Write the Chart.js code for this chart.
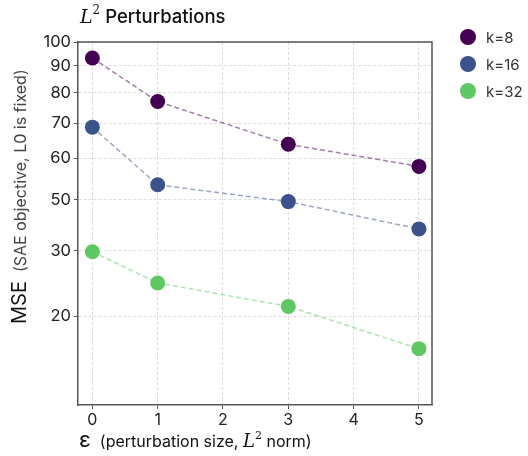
<!DOCTYPE html>
<html>
<head>
<meta charset="utf-8">
<script src="https://cdn.jsdelivr.net/npm/chart.js@4"></script>
<style>
  html, body { margin: 0; padding: 0; background: #fff; }
  #wrap { width: 528px; height: 456px; }
</style>
</head>
<body>
<div id="wrap"><canvas id="chart"></canvas></div>
<script>
const xValues = [0, 1, 3, 5];
const seriesNames = ['k=8', 'k=16', 'k=32'];
const k8 = [93.2, 77.0, 63.8, 57.9];
const k16 = [68.8, 53.4, 49.6, 44.0];
const k32 = [39.8, 34.7, 31.3, 26.0];
const xTicks = [0, 1, 2, 3, 4, 5];
const yTickValues = [30, 40, 50, 60, 70, 80, 90, 100];
const yTickLabels = ['20', '30', '50', '60', '70', '80', '90', '100'];

const colors = ['#440154', '#3b528b', '#5ec962'];
const lineColors = ['rgba(68,1,84,0.5)', 'rgba(59,82,139,0.5)', 'rgba(94,201,98,0.5)'];
const sansFont = 'Inter, "Noto Sans", sans-serif';
const mathFont = '"DejaVu Serif", "Liberation Serif", serif';

function drawRich(ctx, parts, x, y) {
    // parts: [text, font, dy]
    let cx = x;
    parts.forEach(p => {
        ctx.font = p[1];
        ctx.fillText(p[0], cx, y + (p[2] || 0));
        cx += ctx.measureText(p[0]).width;
    });
}

function richWidth(ctx, parts) {
    let w = 0;
    parts.forEach(p => { ctx.font = p[1]; w += ctx.measureText(p[0]).width; });
    return w;
}

const decorPlugin = {
    id: 'decor',
    beforeDatasetsDraw(chart) {
        const ctx = chart.ctx;
        const a = chart.chartArea;
        ctx.save();
        ctx.strokeStyle = '#555';
        ctx.lineWidth = 1.5;
        ctx.beginPath();
        ctx.moveTo(a.left, a.top);
        ctx.lineTo(a.right, a.top);
        ctx.lineTo(a.right, a.bottom);
        ctx.stroke();
        ctx.restore();
    },
    afterDraw(chart) {
        const ctx = chart.ctx;
        const a = chart.chartArea;
        ctx.save();
        ctx.fillStyle = '#111';
        ctx.textBaseline = 'alphabetic';

        // title
        drawRich(ctx, [
            ['L', 'italic 19px ' + mathFont, 0],
            ['2', '12px ' + mathFont, -9],
            [' Perturbations', '500 18.5px ' + sansFont, 0]
        ], a.left + 2, 23);

        // x axis title
        drawRich(ctx, [
            ['ε', '22px ' + sansFont, 0],
            ['  (perturbation size, ', '16px ' + sansFont, 0],
            ['L', 'italic 18px ' + mathFont, 0],
            ['2', '11px ' + mathFont, -8],
            [' norm)', '16px ' + sansFont, 0]
        ], a.left + 1, 447);

        // y axis title
        const yParts = [
            ['MSE', '20px ' + sansFont, 0],
            ['  (SAE objective, L0 is fixed)', '16px ' + sansFont, 0]
        ];
        ctx.translate(26, 324);
        ctx.rotate(-Math.PI / 2);
        ctx.fillStyle = '#111';
        drawRich(ctx, yParts.slice(0, 1), 0, 0);
        ctx.fillStyle = '#444';
        drawRich(ctx, yParts.slice(1), richWidth(ctx, yParts.slice(0, 1)), 0);
        ctx.restore();

        // legend
        ctx.save();
        ctx.textBaseline = 'middle';
        ctx.font = '15px ' + sansFont;
        chart.data.datasets.forEach((ds, i) => {
            const ly = 37 + i * 27;
            ctx.fillStyle = ds.backgroundColor;
            ctx.beginPath();
            ctx.arc(468, ly, 8, 0, Math.PI * 2);
            ctx.fill();
            ctx.fillStyle = '#333';
            ctx.fillText(ds.label, 486, ly + 1);
        });
        ctx.restore();
    }
};

const seriesData = [k8, k16, k32];

new Chart(document.getElementById('chart').getContext('2d'), {
    type: 'line',
    data: {
        datasets: seriesData.map((vals, i) => ({
            label: seriesNames[i],
            data: vals.map((v, j) => ({ x: xValues[j], y: v })),
            borderColor: lineColors[i],
            backgroundColor: colors[i],
            borderDash: [5, 3],
            borderWidth: 1.5,
            pointRadius: 7.5,
            pointHoverRadius: 7.5,
            pointBorderWidth: 0,
            pointBackgroundColor: colors[i],
            clip: false
        }))
    },
    options: {
        responsive: true,
        maintainAspectRatio: false,
        animation: false,
        layout: { padding: { left: 0, top: 42, right: 96, bottom: 0 } },
        plugins: {
            legend: { display: false },
            tooltip: { enabled: false }
        },
        scales: {
            x: {
                type: 'linear',
                min: -0.22,
                max: 5.2,
                afterBuildTicks: scale => { scale.ticks = xTicks.map(v => ({ value: v })); },
                afterFit: scale => { scale.height = 51; },
                ticks: {
                    color: '#222',
                    font: { family: sansFont, size: 16 },
                    padding: 2,
                    maxRotation: 0
                },
                grid: {
                    color: '#d4d4d4',
                    lineWidth: 0.8,
                    tickLength: 4,
                    tickColor: '#555',
                    tickWidth: 1,
                    tickBorderDash: []
                },
                border: { display: true, color: '#555', width: 1.5, dash: [3, 2] }
            },
            y: {
                type: 'logarithmic',
                min: 20.3,
                max: 100,
                afterBuildTicks: scale => { scale.ticks = yTickValues.map(v => ({ value: v })); },
                afterFit: scale => { scale.width = 78; },
                ticks: {
                    color: '#222',
                    font: { family: sansFont, size: 16.5 },
                    padding: 3,
                    callback: value => yTickLabels[yTickValues.indexOf(value)]
                },
                grid: {
                    color: '#d4d4d4',
                    lineWidth: 0.8,
                    tickLength: 4,
                    tickColor: '#555',
                    tickWidth: 1,
                    tickBorderDash: []
                },
                border: { display: true, color: '#555', width: 1.5, dash: [3, 2] }
            }
        }
    },
    plugins: [decorPlugin]
});
</script>
</body>
</html>
